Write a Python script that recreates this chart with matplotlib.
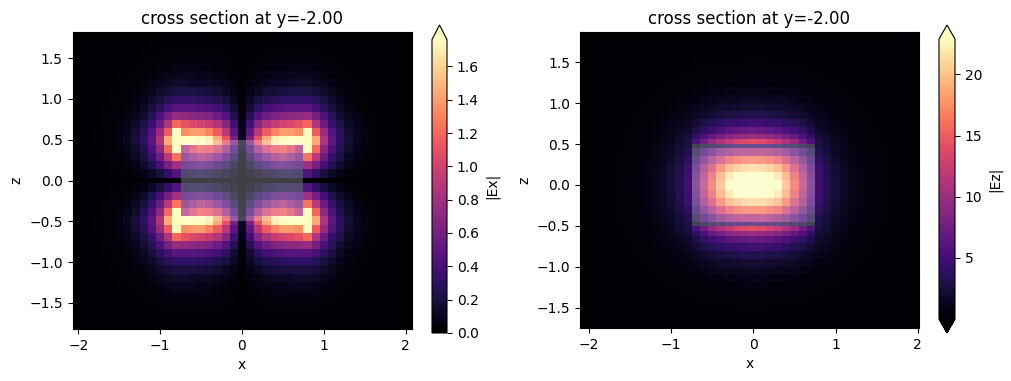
import numpy as np
import matplotlib
matplotlib.use("Agg")
import matplotlib.pyplot as plt
from matplotlib.patches import Rectangle

# one quadrant of each field (x >= 0, z >= 0)
x_edges = [0.05, 0.15, 0.25, 0.35, 0.45, 0.55, 0.65, 0.75, 0.85, 0.95, 1.05,
           1.15, 1.25, 1.35, 1.45, 1.55, 1.65, 1.75, 1.85, 1.95, 2.15]

z_edges_ex = [0.025, 0.14, 0.24, 0.34, 0.44, 0.54, 0.64, 0.74, 0.84, 0.94,
              1.04, 1.14, 1.24, 1.34, 1.44, 1.54, 1.64, 1.74, 1.84]

z_edges_ez = [0.06, 0.16, 0.257, 0.355, 0.453, 0.5, 0.563, 0.624, 0.71, 0.81, 0.906,
              1.0, 1.1, 1.2, 1.3, 1.395, 1.49, 1.59, 1.69, 1.79, 1.885]

ex_field = [
    [.00, .01, .01, .01, .01, .01, .01, .01, .01, .01, .01, .01, .00, .00, .00, .00, .00, .00, .00, .00, .00],
    [.01, .07, .12, .16, .20, .23, .22, .20, .45, .32, .20, .12, .07, .04, .02, .01, .01, .00, .00, .00, .00],
    [.03, .15, .27, .36, .45, .50, .45, .40, .80, .60, .40, .25, .14, .08, .04, .02, .01, .00, .00, .00, .00],
    [.05, .26, .47, .62, .75, .82, .72, .60, 1.25, .90, .55, .33, .20, .11, .06, .03, .02, .01, .00, .00, .00],
    [.08, .42, .75, 1.00, 1.10, 1.15, 1.05, .85, 1.90, 1.20, .70, .42, .25, .14, .08, .04, .02, .01, .00, .00, .00],
    [.12, .62, 1.10, 1.45, 1.70, 1.75, 1.80, 1.90, 1.95, 1.45, .85, .50, .30, .18, .10, .05, .03, .01, .01, .00, .00],
    [.10, .50, .90, 1.15, 1.30, 1.40, 1.40, 1.35, 1.75, 1.15, .75, .45, .27, .16, .09, .05, .02, .01, .01, .00, .00],
    [.08, .38, .68, .85, .95, 1.00, 1.05, 1.10, 1.20, .85, .55, .35, .22, .13, .07, .04, .02, .01, .00, .00, .00],
    [.05, .26, .46, .57, .64, .68, .70, .72, .75, .60, .42, .27, .17, .10, .06, .03, .02, .01, .00, .00, .00],
    [.03, .17, .30, .38, .42, .45, .47, .48, .48, .40, .30, .20, .12, .07, .04, .02, .01, .01, .00, .00, .00],
    [.02, .11, .20, .25, .28, .30, .31, .32, .32, .27, .21, .14, .09, .05, .03, .02, .01, .00, .00, .00, .00],
    [.01, .07, .13, .16, .18, .20, .21, .21, .21, .18, .14, .10, .06, .04, .02, .01, .01, .00, .00, .00, .00],
    [.01, .05, .08, .10, .12, .13, .13, .14, .14, .12, .09, .07, .04, .03, .02, .01, .00, .00, .00, .00, .00],
    [.00, .03, .05, .07, .08, .08, .09, .09, .09, .08, .06, .04, .03, .02, .01, .01, .00, .00, .00, .00, .00],
    [.00, .02, .03, .04, .05, .05, .05, .06, .06, .05, .04, .03, .02, .01, .01, .00, .00, .00, .00, .00, .00],
    [.00, .01, .02, .03, .03, .03, .03, .03, .03, .03, .02, .02, .01, .01, .00, .00, .00, .00, .00, .00, .00],
    [.00, .01, .01, .02, .02, .02, .02, .02, .02, .02, .01, .01, .01, .00, .00, .00, .00, .00, .00, .00, .00],
    [.00, .00, .01, .01, .01, .01, .01, .01, .01, .01, .01, .01, .00, .00, .00, .00, .00, .00, .00, .00, .00],
    [.00, .00, .00, .00, .01, .01, .01, .01, .01, .01, .00, .00, .00, .00, .00, .00, .00, .00, .00, .00, .00],
]

ez_field = [
    [25.0, 24.7, 24.0, 23.5, 19.5, 15.5, 11.5, 6.8, 4.8, 3.4, 2.4, 1.7, 1.2, .80, .55, .38, .25, .16, .10, .06, .03],
    [24.0, 23.7, 23.0, 21.7, 18.6, 14.8, 11.0, 6.5, 4.6, 3.3, 2.3, 1.6, 1.15, .78, .52, .36, .24, .15, .10, .06, .03],
    [21.0, 20.7, 20.1, 19.0, 16.3, 13.0, 9.7, 5.7, 4.3, 3.1, 2.2, 1.5, 1.05, .72, .50, .33, .22, .14, .09, .05, .03],
    [16.5, 16.3, 15.8, 14.9, 12.9, 10.2, 7.6, 4.5, 3.8, 2.7, 1.9, 1.35, .95, .65, .45, .30, .20, .13, .08, .05, .03],
    [11.0, 10.9, 10.6, 9.9, 8.6, 6.8, 5.1, 3.0, 3.3, 2.4, 1.7, 1.2, .85, .58, .40, .27, .18, .11, .07, .04, .02],
    [4.3, 4.2, 4.1, 3.9, 3.3, 2.7, 2.0, 1.1, 2.8, 2.1, 1.5, 1.1, .75, .52, .36, .24, .16, .10, .06, .04, .02],
    [14.0, 13.8, 13.2, 12.3, 11.0, 9.5, 7.5, 5.5, 2.6, 2.0, 1.4, 1.0, .70, .48, .33, .22, .15, .09, .06, .03, .02],
    [10.0, 9.8, 9.4, 8.8, 7.9, 6.8, 5.5, 4.0, 2.3, 1.8, 1.3, .92, .65, .45, .30, .20, .14, .09, .05, .03, .02],
    [7.0, 6.9, 6.6, 6.2, 5.6, 4.9, 4.0, 3.0, 1.9, 1.5, 1.1, .80, .57, .40, .27, .18, .12, .08, .05, .03, .02],
    [4.8, 4.7, 4.5, 4.3, 3.9, 3.4, 2.8, 2.2, 1.5, 1.2, .90, .66, .47, .33, .23, .15, .10, .06, .04, .02, .01],
    [3.2, 3.15, 3.0, 2.85, 2.6, 2.3, 1.9, 1.5, 1.1, .90, .68, .50, .36, .26, .18, .12, .08, .05, .03, .02, .01],
    [2.2, 2.15, 2.05, 1.95, 1.8, 1.6, 1.35, 1.1, .80, .66, .50, .38, .28, .20, .14, .09, .06, .04, .02, .01, .01],
    [1.5, 1.45, 1.4, 1.3, 1.2, 1.1, .92, .75, .56, .47, .37, .28, .21, .15, .10, .07, .05, .03, .02, .01, .01],
    [1.0, .98, .94, .88, .80, .72, .62, .52, .40, .33, .26, .20, .15, .11, .08, .05, .03, .02, .01, .01, .00],
    [.65, .64, .62, .58, .53, .48, .42, .35, .27, .23, .18, .14, .11, .08, .05, .04, .02, .01, .01, .00, .00],
    [.42, .41, .40, .38, .35, .32, .28, .23, .18, .15, .12, .10, .07, .05, .04, .02, .02, .01, .01, .00, .00],
    [.28, .27, .26, .25, .23, .21, .18, .15, .12, .10, .08, .06, .05, .03, .02, .02, .01, .01, .00, .00, .00],
    [.18, .18, .17, .16, .15, .13, .12, .10, .08, .06, .05, .04, .03, .02, .02, .01, .01, .00, .00, .00, .00],
    [.11, .11, .10, .10, .09, .08, .07, .06, .05, .04, .03, .02, .02, .01, .01, .01, .00, .00, .00, .00, .00],
    [.07, .07, .06, .06, .05, .05, .04, .04, .03, .02, .02, .01, .01, .01, .00, .00, .00, .00, .00, .00, .00],
    [.04, .04, .04, .03, .03, .03, .02, .02, .02, .01, .01, .01, .00, .00, .00, .00, .00, .00, .00, .00, .00],
]

ex_ticks = [0.0, 0.2, 0.4, 0.6, 0.8, 1.0, 1.2, 1.4, 1.6]
ez_ticks = [5, 10, 15, 20]

# structure outline
wg_x = 0.75
wg_z = 0.5


def mirror(q):
    q = np.array(q)
    q = np.vstack([q[:0:-1], q])
    return np.hstack([q[:, :0:-1], q])


def both_sides(e):
    e = np.array(e)
    return np.r_[-e[::-1], e]


def panel(fig, rect, crect, field, z_edges, vmin, vmax, xlim, ylim, name, ticks, extend):
    ax = fig.add_axes([rect[0] / W, 1 - rect[3] / H, (rect[2] - rect[0]) / W, (rect[3] - rect[1]) / H])
    m = ax.pcolormesh(both_sides(x_edges), both_sides(z_edges), mirror(field),
                      cmap="magma", vmin=vmin, vmax=vmax, antialiased=False)
    ax.add_patch(Rectangle((-wg_x, -wg_z), 2 * wg_x, 2 * wg_z, facecolor="white",
                           edgecolor="none", alpha=0.25))
    ax.set_xlim(xlim)
    ax.set_ylim(ylim)
    ax.set_xlabel("x")
    ax.set_ylabel("z")
    ax.set_title("cross section at y=-2.00")
    cax = fig.add_axes([crect[0] / W, 1 - crect[3] / H, (crect[2] - crect[0]) / W, (crect[3] - crect[1]) / H])
    cb = fig.colorbar(m, cax=cax, extend=extend, ticks=ticks)
    cb.set_label(name)
    return ax


W, H = 1012, 381
fig = plt.figure(figsize=(W / 100, H / 100), dpi=100)

panel(fig, (72.5, 32, 411.5, 329), (432, 25, 447, 333), ex_field, z_edges_ex,
      0.0, 1.76, (-2.07, 2.07), (-1.82, 1.82), "|Ex|", ex_ticks, "max")
panel(fig, (580, 32, 919, 328), (939, 25, 955, 333), ez_field, z_edges_ez,
      0.001, 22.9, (-2.11, 2.015), (-1.75, 1.87), "|Ez|", ez_ticks, "both")

fig.savefig("out.png", dpi=100)
